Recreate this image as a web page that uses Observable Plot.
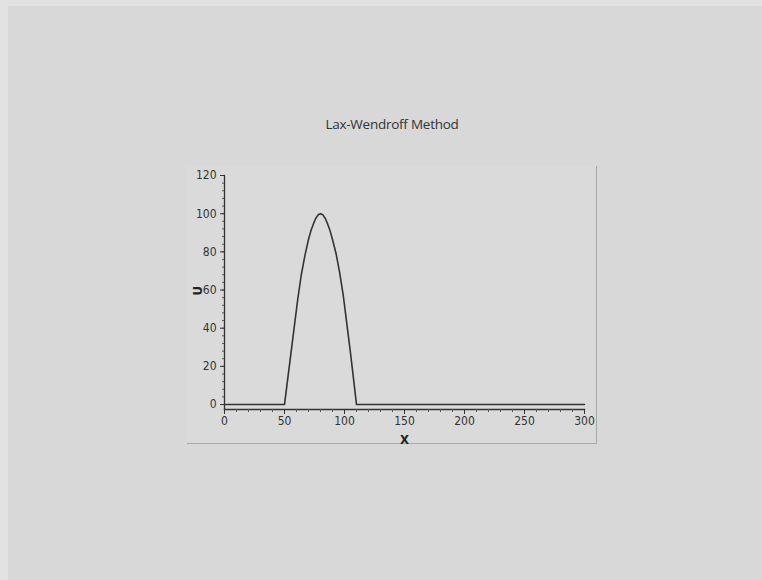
<!DOCTYPE html>
<html>
<head>
<meta charset="utf-8">
<script src="https://cdn.jsdelivr.net/npm/d3@7"></script>
<script src="https://cdn.jsdelivr.net/npm/@observablehq/plot@0.6"></script>
<style>
  html, body { margin: 0; padding: 0; }
  body { width: 762px; height: 580px; background: #e2e2e2; position: relative; overflow: hidden; }
  #slide { position: absolute; left: 8px; top: 6px; right: 0; bottom: 0; background: #d8d8d8; }
  #title { position: absolute; left: 0; width: 784px; top: 115px; text-align: center;
           font-family: "Open Sans", sans-serif; font-size: 13.5px; color: #333; letter-spacing: -0.25px; }
  #panel { position: absolute; left: 187px; top: 166px; width: 409px; height: 277px;
           background: #dadada; border-right: 1.5px solid #a8a8a8; border-bottom: 1.5px solid #a8a8a8; }
  #chart { position: absolute; left: 0; top: 140px; }
</style>
</head>
<body>
<div id="slide"></div>
<div id="title">Lax-Wendroff Method</div>
<div id="panel"></div>
<div id="chart"></div>
<script>
// Data
const xValues = [0, 50, 52, 55, 58, 61, 64, 67, 70, 72, 74, 76, 78, 80, 82, 84, 86, 88, 90, 93, 96, 99, 102, 105, 108, 110, 300];
const uValues = [0, 0, 10, 25, 40, 55, 68, 78, 86.5, 91, 94.5, 97.5, 99.4, 100, 99.4, 97.5, 94.5, 91, 86.5, 79, 69, 57, 42, 27, 11, 0, 0];
const xTicks = [0, 50, 100, 150, 200, 250, 300];
const yTicks = [0, 20, 40, 60, 80, 100, 120];
const xMinor = d3.range(0, 301, 10);
const yMinor = d3.range(0, 121, 4);
const xLabel = "X";
const yLabel = "U";

const data = xValues.map((x, i) => ({x, u: uValues[i]}));
const font = "'Liberation Sans Narrow', 'DejaVu Sans Condensed', Arial, sans-serif";

const chart = Plot.plot({
  width: 762,
  height: 320,
  marginLeft: 224,
  marginRight: 178,
  marginTop: 35,
  marginBottom: 51,
  style: {background: "transparent", fontFamily: font, fontSize: "12px", color: "#333"},
  x: {domain: [0, 300]},
  y: {domain: [-2.6, 120]},
  marks: [
    Plot.frame({anchor: "bottom", stroke: "#333", strokeWidth: 1.3}),
    Plot.frame({anchor: "left", stroke: "#333", strokeWidth: 1.3}),
    Plot.axisX({ticks: xMinor, tickSize: 3, tickFormat: () => "", label: null, stroke: "#555"}),
    Plot.axisX({ticks: xTicks, tickSize: 5, tickPadding: 2, label: null, stroke: "#333", fill: "#333"}),
    Plot.axisY({ticks: yMinor, tickSize: 2, tickFormat: () => "", label: null, stroke: "#555"}),
    Plot.axisY({ticks: yTicks, tickSize: 4, tickPadding: 4, label: null, stroke: "#333", fill: "#333"}),
    Plot.text([xLabel], {frameAnchor: "bottom", dy: 34, text: d => d, fontWeight: "bold", fontSize: 13, fill: "#222"}),
    Plot.text([yLabel], {frameAnchor: "left", dx: -27, dy: 3, rotate: -90, text: d => d, fontWeight: "bold", fontSize: 13, fill: "#222"}),
    Plot.line(data, {x: "x", y: "u", stroke: "#333", strokeWidth: 1.6})
  ]
});
document.getElementById("chart").appendChild(chart);
</script>
</body>
</html>
